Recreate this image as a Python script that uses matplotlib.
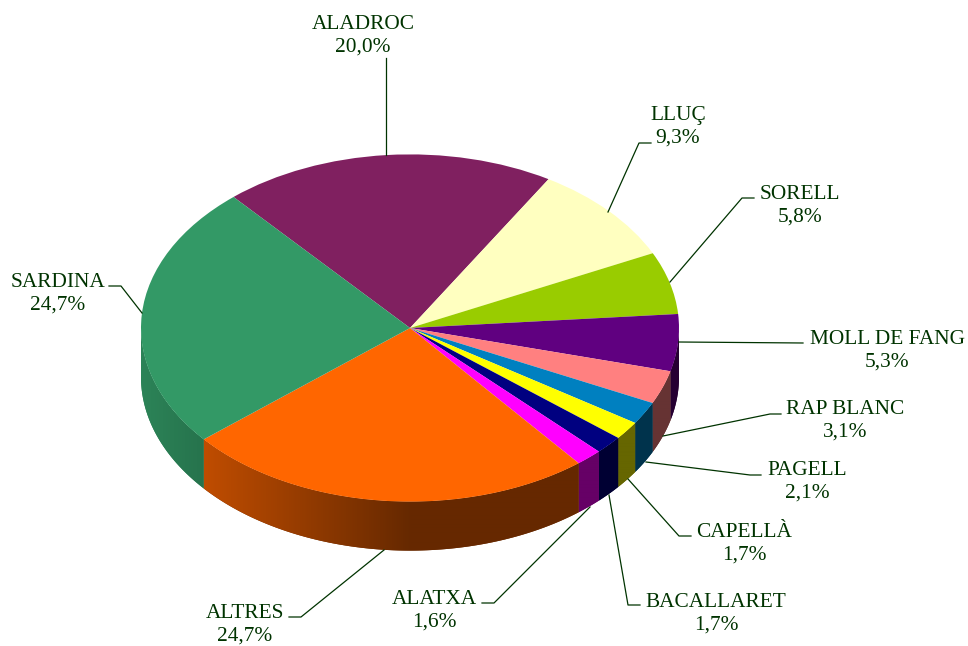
import matplotlib
matplotlib.use("Agg")
import matplotlib.pyplot as plt
import numpy as np

names = ["ALADROC", "LLUÇ", "SORELL", "MOLL DE FANG", "RAP BLANC", "PAGELL",
         "CAPELLÀ", "BACALLARET", "ALATXA", "ALTRES", "SARDINA"]
values = [20.0, 9.3, 5.8, 5.3, 3.1, 2.1, 1.7, 1.7, 1.6, 24.7, 24.7]
colors = ["#802060", "#FFFFC0", "#99CC00", "#600080", "#FF8080", "#0080C0",
          "#FFFF00", "#000080", "#FF00FF", "#FF6600", "#339966"]

# label centre (px) and leader polyline (px), same order as names
label_pos = [(363, 36), (678, 126.5), (800, 206), (887, 350.5), (845.5, 421), (807, 482),
             (744, 543.5), (716, 613.5), (434, 611), (245, 625), (58, 294)]
leaders = [
    [(386, 155), (386, 58)],
    [(608, 212), (639, 143), (651, 143)],
    [(670, 282), (742, 198), (754, 198)],
    [(679, 342), (803, 343)],
    [(663, 436), (770, 414), (781, 414)],
    [(646, 462), (750, 475), (761, 475)],
    [(628, 479), (679, 536), (691, 536)],
    [(609, 495), (628, 605), (640, 605)],
    [(590, 507), (494, 603), (482, 603)],
    [(384, 550), (301, 617), (289, 617)],
    [(142, 313), (121, 286), (109, 286)],
]

W, H = 968, 646
cx, cy = 410, 328
rx, ry = 269, 173.6
depth = 49 / ry
start = 131
text_color = "#003300"

fig = plt.figure(figsize=(W / 100, H / 100), dpi=100, facecolor="white")
ax = fig.add_axes([0, 0, 1, 1])


def shade(x):
    return np.interp(x, [-1, 0, 1], [0.86, 0.40, 0.40])


ax.pie(values, colors=colors, startangle=start, counterclock=False, radius=1,
       wedgeprops={"linewidth": 0, "zorder": 3})

# side wall of the disc, built from the same slices
edge = start - np.cumsum([0] + values) * 3.6
grad_x = np.linspace(-1, 1, 1076)
for i, c in enumerate(colors):
    a0, a1 = edge[i + 1], edge[i]
    rgb = np.array(matplotlib.colors.to_rgb(c))
    # bring the slice into the 180..360 range that faces the viewer
    for off in (0, 360, -360):
        lo, hi = max(a0 + off, 180), min(a1 + off, 360)
        if hi <= lo:
            continue
        t = np.radians(np.linspace(lo, hi, 200))
        xs = np.r_[np.cos(t), np.cos(t[::-1])]
        ys = np.r_[np.sin(t), np.sin(t[::-1]) - depth]
        poly = ax.fill(xs, ys, facecolor=rgb * shade(np.cos(t).mean()), linewidth=0, zorder=1)[0]
        grad = shade(grad_x)[None, :, None] * rgb[None, None, :]
        im = ax.imshow(grad, extent=[-1, 1, -1 - depth, 0], aspect="auto", zorder=2,
                       interpolation="bilinear")
        im.set_clip_path(poly)

ax.set_aspect("auto")
ax.set_xlim(-cx / rx, (W - cx) / rx)
ax.set_ylim(-(H - cy) / ry, cy / ry)
ax.axis("off")

# labels and leaders in pixel coordinates
over = fig.add_axes([0, 0, 1, 1], facecolor="none")
over.set_xlim(0, W)
over.set_ylim(H, 0)
over.axis("off")
for name, v, pos, pts in zip(names, values, label_pos, leaders):
    pts = np.array(pts)
    over.plot(pts[:, 0], pts[:, 1], color=text_color, linewidth=0.9)
    over.text(pos[0], pos[1], name + "\n" + f"{v:.1f}".replace(".", ",") + "%",
              ha="center", va="center", multialignment="center",
              family="Liberation Serif", fontsize=15.4, color=text_color, linespacing=1.27)

fig.savefig("out.png", dpi=100, facecolor="white")
